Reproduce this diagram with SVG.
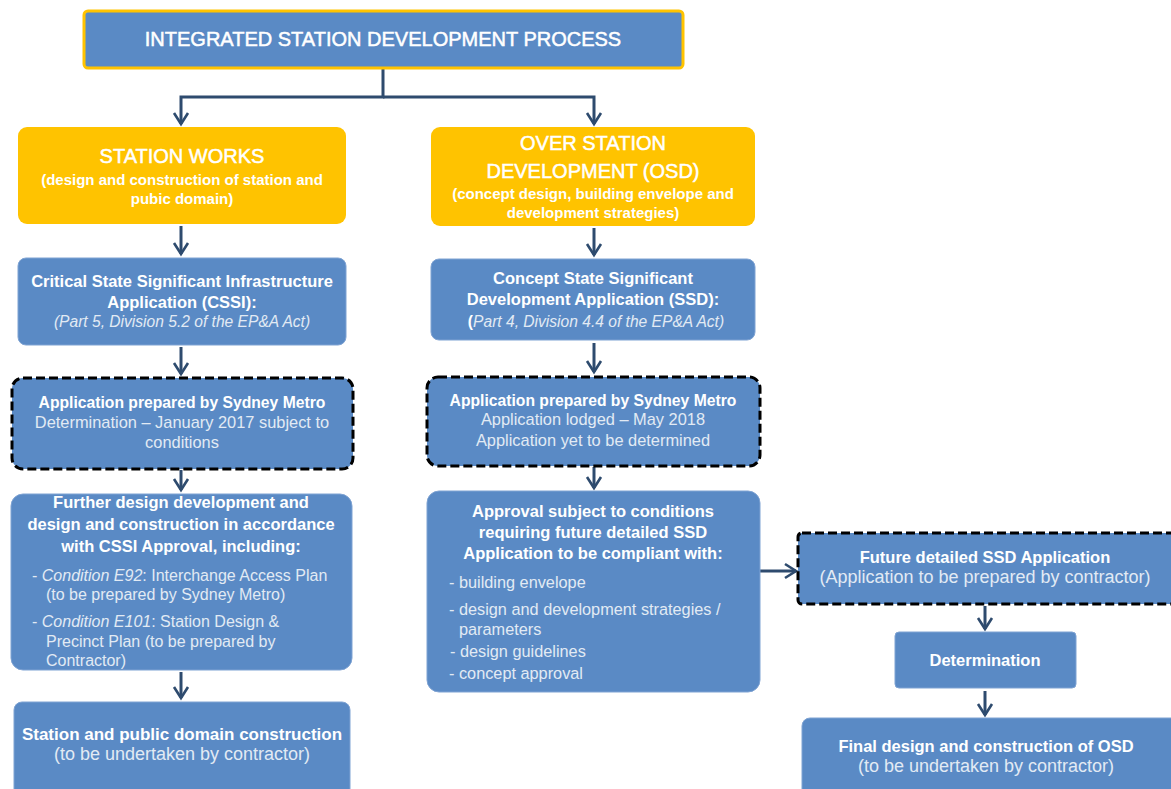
<svg xmlns="http://www.w3.org/2000/svg" width="1171" height="789" viewBox="0 0 1171 789">
<defs>
<style>
text{font-family:"Liberation Sans",Arial,sans-serif;fill:#fff;text-anchor:middle}
.box{fill:#5A8AC5;stroke:#7FA3D3;stroke-width:1}
.yel{fill:#FFC300}
.dash{fill:#5A8AC5;stroke:#000;stroke-width:3;stroke-dasharray:9 4}
.h{font-size:16.5px;font-weight:bold}
.hy{font-size:20px;stroke:#fff;stroke-width:0.5}
.sy{font-size:15px;font-weight:bold}
.b{font-size:16.4px;fill:#E2EAF4}
.bl{font-size:18px;fill:#E2EAF4}
.bb{font-size:15.7px;font-weight:bold}
.it{font-size:16px;fill:#E2EAF4;text-anchor:start}
.it2{font-size:16.3px;fill:#E2EAF4;text-anchor:start}
.ia{font-size:15.6px;fill:#E2EAF4}
.i{font-style:italic}
.con{fill:none;stroke:#2E4B6E;stroke-width:3}
</style>
<marker id="arr" viewBox="0 0 14 16" refX="12" refY="8" markerWidth="14" markerHeight="16" markerUnits="userSpaceOnUse" orient="auto" overflow="visible">
<path d="M1,1 L12,8 L1,15" fill="none" stroke="#2E4B6E" stroke-width="2.6"/>
</marker>
</defs>
<rect width="1171" height="789" fill="#fff"/>

<g id="connectors">
<path class="con" d="M383,68 V97 H181 V124" marker-end="url(#arr)"/>
<path class="con" d="M383,97 H594 V124" marker-end="url(#arr)"/>
<path class="con" d="M181,226 V254" marker-end="url(#arr)"/>
<path class="con" d="M594,228 V255" marker-end="url(#arr)"/>
<path class="con" d="M181,347 V374" marker-end="url(#arr)"/>
<path class="con" d="M594,343 V372" marker-end="url(#arr)"/>
<path class="con" d="M181,470 V490" marker-end="url(#arr)"/>
<path class="con" d="M594,467 V488" marker-end="url(#arr)"/>
<path class="con" d="M181,672 V698" marker-end="url(#arr)"/>
<path class="con" d="M760,571 H796" marker-end="url(#arr)"/>
<path class="con" d="M985,606 V629" marker-end="url(#arr)"/>
<path class="con" d="M985,691 V715" marker-end="url(#arr)"/>
</g>

<g id="title">
<rect x="84" y="11" width="599" height="57" rx="4" fill="#5A8AC5" stroke="#FFC300" stroke-width="3"/>
<text x="383" y="46" style="font-size:20px;stroke:#fff;stroke-width:0.5">INTEGRATED STATION DEVELOPMENT PROCESS</text>
</g>

<g id="station-works">
<rect class="yel" x="18" y="127" width="328" height="97" rx="9"/>
<text class="hy" x="182" y="163">STATION WORKS</text>
<text class="sy" x="182" y="185">(design and construction of station and</text>
<text class="sy" x="182" y="204">pubic domain)</text>
</g>

<g id="osd">
<rect class="yel" x="431" y="127" width="324" height="99" rx="9"/>
<text class="hy" x="593" y="150">OVER STATION</text>
<text class="hy" x="593" y="178">DEVELOPMENT (OSD)</text>
<text class="sy" x="593" y="199">(concept design, building envelope and</text>
<text class="sy" x="593" y="218">development strategies)</text>
</g>

<g id="cssi">
<rect class="box" x="18" y="258" width="328" height="87" rx="8"/>
<text class="h" x="182" y="287">Critical State Significant Infrastructure</text>
<text class="h" x="182" y="308">Application (CSSI):</text>
<text class="ia i" x="182" y="327">(Part 5, Division 5.2 of the EP&amp;A Act)</text>
</g>

<g id="ssd">
<rect class="box" x="431" y="259" width="324" height="81" rx="8"/>
<text class="h" x="593" y="284">Concept State Significant</text>
<text class="h" x="593" y="305">Development Application (SSD):</text>
<text class="ia" x="596" y="327"><tspan style="font-weight:bold;fill:#fff">(</tspan><tspan class="i">Part 4, Division 4.4 of the EP&amp;A Act)</tspan></text>
</g>

<g id="cssi-application">
<rect class="dash" x="12" y="378" width="341" height="91" rx="11"/>
<text class="bb" x="182" y="408">Application  prepared  by Sydney Metro</text>
<text class="b" x="182" y="428">Determination  – January 2017 subject to</text>
<text class="b" x="182" y="448">conditions</text>
</g>

<g id="ssd-application">
<rect class="dash" x="427" y="377" width="333" height="89" rx="11"/>
<text class="bb" x="593" y="406">Application  prepared  by Sydney Metro</text>
<text class="b" x="593" y="425">Application lodged – May 2018</text>
<text class="b" x="593" y="446">Application yet to be determined</text>
</g>

<g id="further-design">
<rect class="box" x="11" y="494" width="341" height="176" rx="12"/>
<text class="h" x="181" y="508">Further design development and</text>
<text class="h" x="181" y="530">design and construction in accordance</text>
<text class="h" x="181" y="552">with CSSI Approval, including:</text>
<text class="it" x="32" y="581">- <tspan class="i">Condition E92</tspan>: Interchange  Access Plan</text>
<text class="it" x="46" y="600">(to be prepared  by Sydney Metro)</text>
<text class="it" x="32" y="627">- <tspan class="i">Condition E101</tspan>: Station Design  &amp;</text>
<text class="it" x="46" y="647">Precinct Plan (to be prepared by</text>
<text class="it" x="46" y="666">Contractor)</text>
</g>

<g id="approval">
<rect class="box" x="427" y="491" width="333" height="201" rx="12"/>
<text class="h" x="593" y="517">Approval subject to conditions</text>
<text class="h" x="593" y="538">requiring future detailed SSD</text>
<text class="h" x="593" y="559">Application to be compliant with:</text>
<text class="it2" x="449" y="588">- building envelope</text>
<text class="it2" x="449" y="615">- design and development strategies /</text>
<text class="it2" x="459" y="635">parameters</text>
<text class="it2" x="450" y="657">- design guidelines</text>
<text class="it2" x="449" y="679">- concept approval</text>
</g>

<g id="station-construction">
<rect class="box" x="14" y="702" width="336" height="95" rx="8"/>
<text class="h" x="182" y="740" style="font-size:17px">Station and public domain construction</text>
<text class="bl" x="182" y="760">(to be undertaken by contractor)</text>
</g>

<g id="future-ssd">
<rect class="dash" x="798" y="533" width="380" height="71" rx="4"/>
<text class="h" x="985" y="563">Future detailed SSD Application</text>
<text class="bl" x="985" y="583">(Application to be prepared by contractor)</text>
</g>

<g id="determination">
<rect class="box" x="895" y="632" width="181" height="56" rx="4"/>
<text class="h" x="985" y="666">Determination</text>
</g>

<g id="final-osd">
<rect class="box" x="802" y="718" width="378" height="80" rx="8"/>
<text class="h" x="986" y="752">Final design and construction of OSD</text>
<text class="bl" x="986" y="772">(to be undertaken by contractor)</text>
</g>
</svg>
